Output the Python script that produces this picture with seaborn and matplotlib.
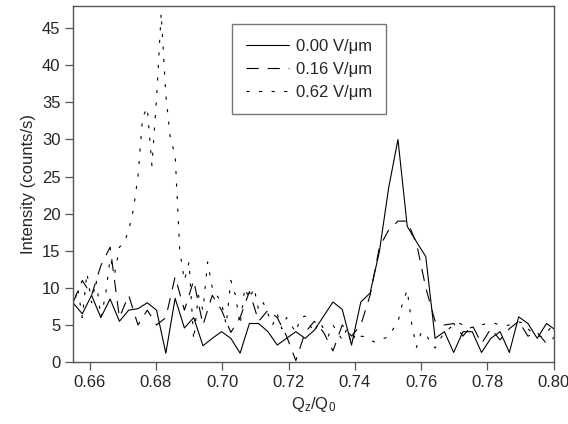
import numpy as np
import pandas as pd
import matplotlib
matplotlib.use("Agg")
import matplotlib.pyplot as plt
import seaborn as sns

# scan grid for the 0.00 and 0.16 V/um runs
q_coarse = [0.6550, 0.6578, 0.6606, 0.6634, 0.6662, 0.6690, 0.6718, 0.6746, 0.6774, 0.6802,
            0.6830, 0.6858, 0.6886, 0.6914, 0.6942, 0.6970, 0.6998, 0.7026, 0.7054, 0.7082,
            0.7110, 0.7138, 0.7166, 0.7194, 0.7222, 0.7250, 0.7278, 0.7306, 0.7334, 0.7362,
            0.7390, 0.7418, 0.7446, 0.7474, 0.7502, 0.7530, 0.7558, 0.7586, 0.7614, 0.7642,
            0.7670, 0.7698, 0.7726, 0.7754, 0.7782, 0.7810, 0.7838, 0.7866, 0.7894, 0.7922,
            0.7950, 0.7978, 0.8006]

i_000 = [8.0, 6.5, 9.0, 6.0, 8.5, 5.5, 7.0, 7.2, 8.0, 7.0,
         1.2, 8.6, 4.6, 6.0, 2.2, 3.2, 4.1, 3.2, 1.2, 5.2,
         5.2, 4.1, 2.3, 3.2, 4.1, 3.2, 4.3, 6.2, 8.1, 7.1,
         2.3, 8.1, 9.3, 14.9, 23.5, 30.0, 18.3, 16.2, 14.2, 3.2,
         4.1, 1.3, 4.1, 4.1, 1.3, 3.2, 4.1, 1.3, 6.1, 5.2,
         3.2, 5.2, 4.3]

i_016 = [8.0, 11.0, 9.0, 13.0, 15.5, 6.0, 9.0, 5.0, 7.0, 5.0,
         6.0, 11.5, 7.0, 11.0, 5.0, 9.0, 7.0, 4.0, 6.0, 9.5,
         5.5, 7.0, 6.0, 3.5, 0.2, 4.0, 5.5, 4.0, 1.5, 5.0,
         3.5, 5.0, 9.0, 15.5, 17.8, 19.0, 19.0, 16.0, 10.0, 5.5,
         5.0, 5.2, 3.5, 5.0, 2.5, 4.5, 3.0, 4.5, 5.5, 3.5,
         4.0, 2.5, 3.5]

# finer grid for the 0.62 V/um run
q_fine = [0.6550, 0.6564, 0.6578, 0.6592, 0.6606, 0.6620, 0.6634, 0.6648, 0.6662, 0.6676,
          0.6690, 0.6704, 0.6718, 0.6732, 0.6746, 0.6760, 0.6774, 0.6788, 0.6802, 0.6816,
          0.6830, 0.6844, 0.6858, 0.6872, 0.6886, 0.6900, 0.6914, 0.6928, 0.6942, 0.6956,
          0.6970, 0.6984, 0.6998, 0.7012, 0.7026, 0.7040, 0.7054, 0.7068, 0.7082, 0.7096,
          0.7110, 0.7124, 0.7138, 0.7152, 0.7166, 0.7180, 0.7194, 0.7208, 0.7222, 0.7236,
          0.7250, 0.7264, 0.7278, 0.7292, 0.7306, 0.7320, 0.7334, 0.7348, 0.7362, 0.7376,
          0.7390, 0.7404, 0.7418, 0.7432, 0.7446, 0.7460, 0.7474, 0.7488, 0.7502, 0.7516,
          0.7530, 0.7544, 0.7558, 0.7572, 0.7586, 0.7600, 0.7614, 0.7628, 0.7642, 0.7656,
          0.7670, 0.7684, 0.7698, 0.7712, 0.7726, 0.7740, 0.7754, 0.7768, 0.7782, 0.7796,
          0.7810, 0.7824, 0.7838, 0.7852, 0.7866, 0.7880, 0.7894, 0.7908, 0.7922, 0.7936,
          0.7950, 0.7964, 0.7978, 0.7992, 0.8006]

i_062 = [7.0, 10.0, 6.0, 12.0, 8.0, 11.0, 6.0, 9.0, 14.0, 12.0,
         15.5, 16.0, 17.8, 20.5, 25.0, 33.0, 34.3, 26.5, 35.5, 47.0,
         36.0, 30.0, 28.0, 15.0, 11.0, 13.5, 3.0, 9.0, 7.0, 13.5,
         10.0, 9.0, 8.0, 5.0, 11.0, 9.0, 5.0, 10.0, 8.5, 10.0,
         7.0, 8.0, 6.5, 5.0, 6.5, 4.5, 6.0, 5.0, 4.0, 6.0,
         6.2, 5.0, 4.0, 5.5, 4.5, 3.5, 5.0, 4.0, 3.0, 4.5,
         2.5, 4.0, 3.5, 3.4, 3.0, 2.7, 3.0, 3.2, 3.4, 4.5,
         5.4, 8.0, 9.7, 5.0, 2.0, 4.0, 3.9, 2.5, 1.9, 3.0,
         4.0, 4.5, 5.0, 5.3, 5.0, 4.5, 4.7, 4.8, 5.0, 5.2,
         5.3, 5.2, 5.0, 4.9, 5.0, 5.2, 5.4, 5.3, 4.5, 3.9,
         3.6, 3.4, 4.0, 4.7, 4.5]

x_ticks = [0.66, 0.68, 0.70, 0.72, 0.74, 0.76, 0.78, 0.80]
y_ticks = [0, 5, 10, 15, 20, 25, 30, 35, 40, 45]

sns.set_style("white")
plt.rcParams['font.family'] = ['Liberation Sans', 'DejaVu Sans']
plt.rcParams['mathtext.fontset'] = 'custom'
plt.rcParams['mathtext.rm'] = 'Liberation Sans'
plt.rcParams['mathtext.it'] = 'Liberation Sans'

fig = plt.figure(figsize=(5.68, 4.24), dpi=100)
ax = fig.add_axes([0.1285, 0.146, 0.8465, 0.840])

sns.lineplot(x=q_coarse, y=i_000, ax=ax, color='black', linewidth=0.8,
             label='0.00 V/\u03bcm')
sns.lineplot(x=q_coarse, y=i_016, ax=ax, color='black', linewidth=0.8,
             linestyle=(0, (11, 8)), label='0.16 V/\u03bcm')
sns.lineplot(x=q_fine, y=i_062, ax=ax, color='black', linewidth=0.8,
             linestyle=(0, (2.8, 8.5)), label='0.62 V/\u03bcm')

ax.set_xlim(0.655, 0.80)
ax.set_ylim(0, 48)
ax.set_xticks(x_ticks)
ax.set_xticklabels(['%.2f' % t for t in x_ticks])
ax.set_yticks(y_ticks)
ax.tick_params(direction='out', length=5.5, width=0.9, color='#555555',
               labelsize=12, bottom=True, left=True, top=False, right=False)
for s in ax.spines.values():
    s.set_color('#555555')
    s.set_linewidth(1.0)

ax.set_xlabel(r'$\mathregular{Q_z/Q_0}$', fontsize=12)
ax.set_ylabel('Intensity (counts/s)', fontsize=12)

leg = ax.legend(loc='upper left', bbox_to_anchor=(0.33, 0.948), fontsize=12,
                frameon=True, fancybox=False, handlelength=2.6, borderaxespad=0,
                labelspacing=0.5, borderpad=0.85, handletextpad=0.4)
leg.get_frame().set_edgecolor('#555555')
leg.get_frame().set_linewidth(1.0)

fig.savefig('out.png', dpi=100)
